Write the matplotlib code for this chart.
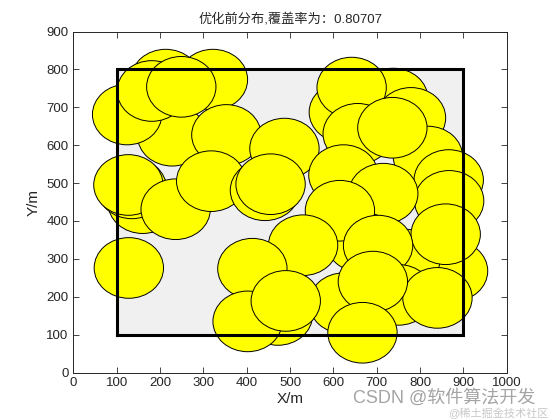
import matplotlib
matplotlib.use("Agg")
import matplotlib.pyplot as plt
from matplotlib.patches import Circle, Polygon

plt.rcParams['font.family'] = ['Liberation Sans', 'Noto Sans CJK SC', 'DejaVu Sans']

# circle centres (drawing order: bottom to top)
circle_x = [228, 213, 322, 124, 181, 249, 353,
            160, 135, 127, 236, 318,
            487, 442, 455,
            624, 738, 642, 656, 779, 818, 736, 866, 867,
            623, 715,
            663, 615, 530,
            850, 865, 876, 766, 859, 703,
            128,
            472, 413, 402, 624, 490,
            750, 840, 691, 667]
circle_y = [625, 773, 773, 681, 743, 754, 627,
            447, 486, 495, 431, 505,
            591, 481, 497,
            687, 723, 752, 630, 672, 570, 646, 508, 453,
            521, 472,
            345, 427, 336,
            270, 275, 268, 298, 365, 335,
            276,
            152, 274, 135, 183, 189,
            205, 197, 240, 105]
radius = 80

rect_x = [100, 900, 900, 100, 100]
rect_y = [100, 100, 800, 800, 100]

coverage = "0.80707"
title = "优化前分布,覆盖率为：" + coverage
x_ticks = list(range(0, 1001, 100))
y_ticks = list(range(0, 901, 100))

fig = plt.figure(figsize=(5.6, 4.2), dpi=100)
ax = fig.add_axes([0.131, 0.113, 0.774, 0.812])

ax.add_patch(Polygon(list(zip(rect_x, rect_y)), closed=True,
                     facecolor='#f0f0f0', edgecolor='none', zorder=1))
for cx, cy in zip(circle_x, circle_y):
    ax.add_patch(Circle((cx, cy), radius, facecolor='#ffff00',
                        edgecolor='black', linewidth=0.7, zorder=2))
ax.plot(rect_x, rect_y, color='black', linewidth=2.2, zorder=3,
        solid_joinstyle='miter')

ax.set_xlim(0, 1000)
ax.set_ylim(0, 900)
ax.set_xticks(x_ticks)
ax.set_yticks(y_ticks)
ax.tick_params(direction='in', length=4, width=0.6, top=True, right=True,
               labelsize=9.5, colors='#262626')
for s in ax.spines.values():
    s.set_color('#262626')
    s.set_linewidth(0.7)
ax.set_xlabel('X/m', fontsize=11, color='#262626', labelpad=2)
ax.set_ylabel('Y/m', fontsize=11, color='#262626', labelpad=4)
ax.set_title(title, fontsize=9.5, color='#262626', pad=6)

fig.text(0.63, 0.04, 'CSDN @软件算法开发', fontsize=13, color='#9a9a9a',
         alpha=0.9)
fig.text(0.80, 0.008, '@稀土掘金技术社区', fontsize=8, color='#bbbbbb',
         alpha=0.8)

fig.savefig('out.png', dpi=100)
